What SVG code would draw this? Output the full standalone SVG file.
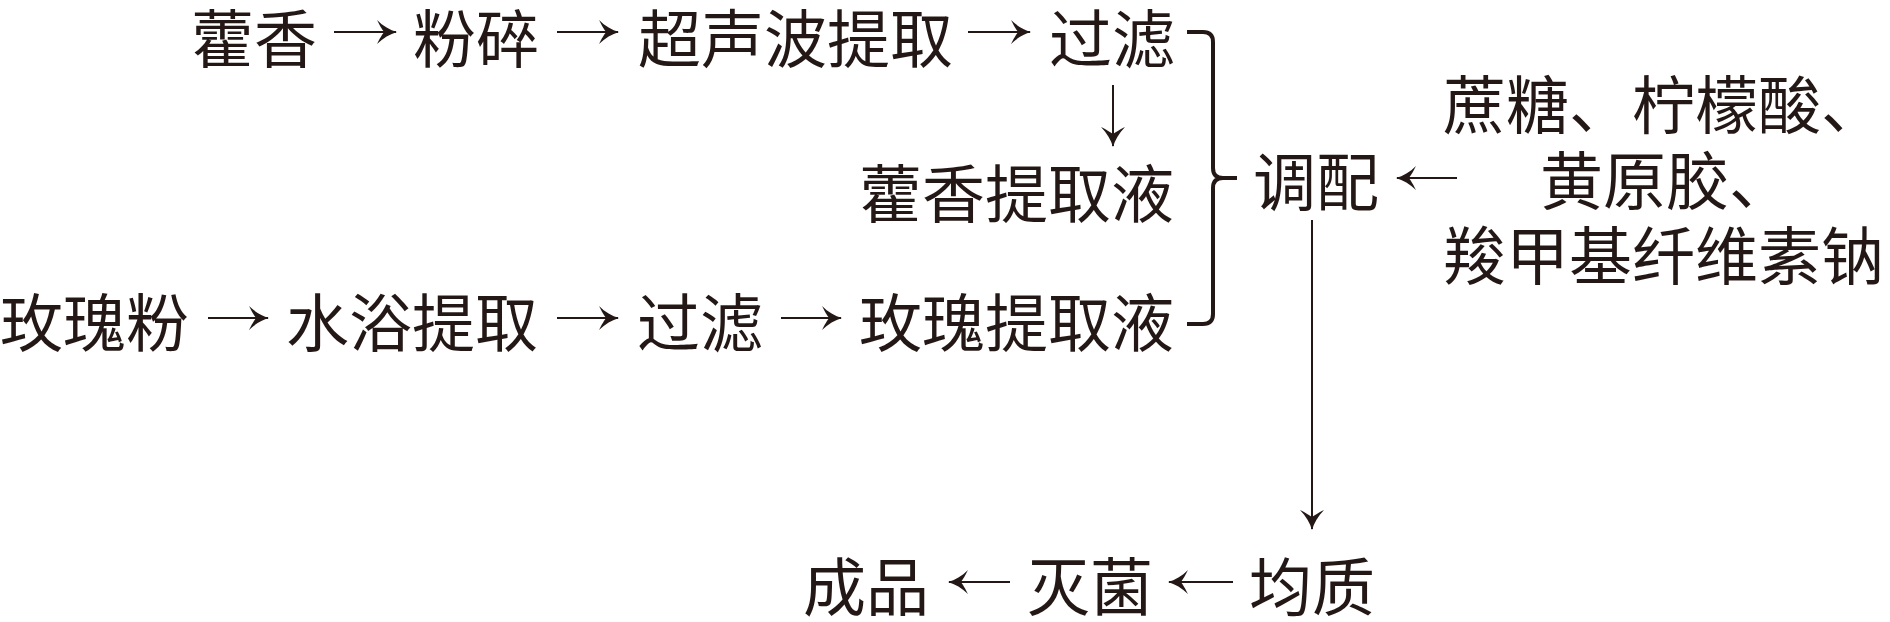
<svg xmlns="http://www.w3.org/2000/svg" width="1890" height="622" viewBox="0 0 1890 622">
<style>
text{font-family:"Noto Sans CJK SC","Noto Sans CJK JP",sans-serif;font-size:63px;fill:#231815;dominant-baseline:central}
.c{stroke:#231815;stroke-width:2;fill:none}
.br{stroke:#231815;stroke-width:4;fill:none;stroke-linecap:butt}
</style>
<defs>
<marker id="ah" markerUnits="userSpaceOnUse" viewBox="-21 -13 22 26" refX="0" refY="0" markerWidth="22" markerHeight="26" orient="auto">
<path d="M1,0 C-6,-2 -13,-6 -19,-12 C-16,-6 -14,-3 -12,0 C-14,3 -16,6 -19,12 C-13,6 -6,2 1,0 Z" fill="#231815"/>
</marker>
</defs>
<rect width="1890" height="622" fill="#fff"/>
<g id="n-huoxiang"><text x="191" y="34">藿香</text></g>
<g id="n-fensui"><text x="413" y="34">粉碎</text></g>
<g id="n-chaosheng"><text x="638" y="34">超声波提取</text></g>
<g id="n-guolv1"><text x="1049" y="34">过滤</text></g>
<g id="n-huoxiangye"><text x="859" y="189">藿香提取液</text></g>
<g id="n-meiguifen"><text x="0" y="318">玫瑰粉</text></g>
<g id="n-shuiyu"><text x="286" y="318">水浴提取</text></g>
<g id="n-guolv2"><text x="637" y="318">过滤</text></g>
<g id="n-meiguiye"><text x="859" y="318">玫瑰提取液</text></g>
<g id="n-tiaopei"><text x="1253" y="177">调配</text></g>
<g id="n-fuliao"><text><tspan x="1443" y="100">蔗糖、柠檬酸、</tspan><tspan x="1540" y="176">黄原胶、</tspan><tspan x="1443" y="251">羧甲基纤维素钠</tspan></text></g>
<g id="n-junzhi"><text x="1249" y="582">均质</text></g>
<g id="n-miejun"><text x="1027" y="582">灭菌</text></g>
<g id="n-chengpin"><text x="803" y="582">成品</text></g>
<g id="connectors">
<line class="c" x1="334" y1="32" x2="396" y2="32" marker-end="url(#ah)"/>
<line class="c" x1="557" y1="32" x2="618" y2="32" marker-end="url(#ah)"/>
<line class="c" x1="968" y1="32" x2="1030" y2="32" marker-end="url(#ah)"/>
<line class="c" x1="1113" y1="85" x2="1113" y2="146" marker-end="url(#ah)"/>
<line class="c" x1="208" y1="318" x2="268" y2="318" marker-end="url(#ah)"/>
<line class="c" x1="557" y1="318" x2="618" y2="318" marker-end="url(#ah)"/>
<line class="c" x1="781" y1="318" x2="841" y2="318" marker-end="url(#ah)"/>
<path class="br" d="M1187,32 H1203 Q1213,32 1213,42 V168 Q1213,178 1223,178 H1237 M1223,178 Q1213,178 1213,188 V314 Q1213,324 1203,324 H1187"/>
<line class="c" x1="1457" y1="178" x2="1397" y2="178" marker-end="url(#ah)"/>
<line class="c" x1="1312" y1="220" x2="1312" y2="529" marker-end="url(#ah)"/>
<line class="c" x1="1233" y1="582" x2="1169" y2="582" marker-end="url(#ah)"/>
<line class="c" x1="1010" y1="582" x2="949" y2="582" marker-end="url(#ah)"/>
</g>
</svg>
